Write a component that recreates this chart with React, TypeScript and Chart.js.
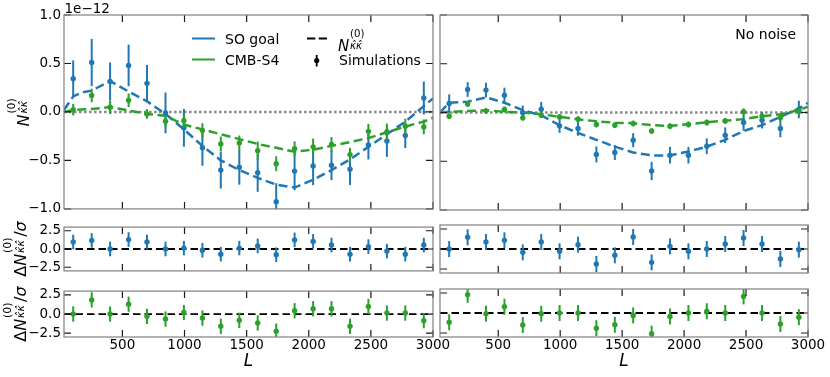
import React, { useEffect, useRef } from 'react';
import { Chart, registerables } from 'chart.js';

Chart.register(...registerables);

const BLUE = '#1f77b4';
const GREEN = '#2ca02c';
const FAM = "'DejaVu Sans'";

const L_MIN = 30;
const L_MAX = 3000;
const L_BINS = [104, 253, 401, 550, 698, 847, 995, 1144, 1292, 1441, 1589, 1738, 1886, 2035, 2183, 2332, 2480, 2629, 2777, 2926];
const L_THEORY = [30, 104, 170, 253, 401, 550, 698, 847, 995, 1144, 1292, 1441, 1589, 1738, 1886, 2035, 2183, 2332, 2480, 2629, 2777, 2926, 3000];
const X_TICKS = [500, 1000, 1500, 2000, 2500, 3000];
const Y_TICKS_MAIN = [-1, -0.5, 0, 0.5, 1];
const Y_TICKS_RES = [-2.5, 0, 2.5];

// ---- with noise (left column), units of 1e-12 ----
const SO_THEORY_NOISE = [0.02, 0.16, 0.2, 0.22, 0.32, 0.21, 0.11, -0.02, -0.18, -0.35, -0.5, -0.6, -0.68, -0.75, -0.78, -0.7, -0.6, -0.49, -0.36, -0.23, -0.1, 0.06, 0.14];
const S4_THEORY_NOISE = [0.0, 0.02, 0.025, 0.03, 0.05, 0.015, -0.02, -0.04, -0.13, -0.18, -0.23, -0.28, -0.33, -0.37, -0.41, -0.39, -0.35, -0.31, -0.27, -0.21, -0.15, -0.1, -0.06];
const SO_SIM_NOISE = [0.342, 0.51, 0.315, 0.48, 0.295, -0.01, -0.164, -0.37, -0.6, -0.57, -0.627, -0.925, -0.61, -0.558, -0.55, -0.59, -0.34, -0.3, -0.243, 0.144];
const SO_ERR_NOISE = [0.19, 0.243, 0.195, 0.214, 0.19, 0.21, 0.195, 0.185, 0.19, 0.18, 0.197, 0.19, 0.197, 0.197, 0.154, 0.163, 0.15, 0.163, 0.13, 0.17];
const S4_SIM_NOISE = [0.024, 0.17, 0.048, 0.12, -0.02, -0.096, -0.089, -0.19, -0.33, -0.32, -0.4, -0.534, -0.38, -0.36, -0.336, -0.44, -0.2, -0.205, -0.147, -0.154];
const S4_ERR_NOISE = [0.06, 0.07, 0.07, 0.07, 0.05, 0.063, 0.074, 0.074, 0.077, 0.077, 0.094, 0.077, 0.077, 0.085, 0.077, 0.07, 0.077, 0.085, 0.077, 0.077];

// ---- no noise (right column) ----
const SO_THEORY_NONOISE = [0.0, 0.1, 0.105, 0.11, 0.155, 0.1, 0.024, -0.03, -0.13, -0.21, -0.28, -0.35, -0.41, -0.44, -0.44, -0.4, -0.35, -0.28, -0.19, -0.13, -0.045, 0.04, 0.1];
const S4_THEORY_NONOISE = [0.0, 0.007, 0.01, 0.015, 0.024, 0.007, 0.0, -0.017, -0.045, -0.07, -0.09, -0.105, -0.11, -0.13, -0.137, -0.12, -0.1, -0.085, -0.068, -0.038, -0.017, 0.024, 0.06];
const SO_SIM_NONOISE = [0.092, 0.236, 0.23, 0.178, -0.003, 0.034, -0.137, -0.164, -0.43, -0.41, -0.284, -0.6, -0.438, -0.438, -0.346, -0.233, -0.103, -0.079, -0.164, 0.031];
const SO_ERR_NONOISE = [0.094, 0.075, 0.075, 0.077, 0.074, 0.074, 0.072, 0.074, 0.082, 0.077, 0.072, 0.094, 0.085, 0.085, 0.08, 0.08, 0.085, 0.085, 0.09, 0.09];
const S4_SIM_NONOISE = [-0.038, 0.086, 0.017, 0.031, -0.055, -0.027, -0.045, -0.068, -0.123, -0.13, -0.113, -0.19, -0.14, -0.123, -0.103, -0.086, 0.007, -0.038, -0.051, 0.014];
const S4_ERR_NONOISE = [0.03, 0.031, 0.03, 0.03, 0.029, 0.029, 0.03, 0.03, 0.03, 0.03, 0.029, 0.028, 0.03, 0.03, 0.031, 0.031, 0.035, 0.033, 0.034, 0.035];

// ---- normalised residuals ----
const RES_SO_NOISE = [0.96, 1.17, 0.0, 1.29, 0.96, 0.0, 0.125, -0.17, -0.71, 0.125, 0.42, -0.79, 1.25, 1.04, 0.54, -0.71, 0.33, -0.29, -0.71, 0.54];
const RES_S4_NOISE = [0.0, 1.85, 0.0, 1.29, -0.3, -0.65, 0.2, -0.52, -1.6, -0.82, -1.16, -2.24, 0.43, 0.69, 0.69, -1.6, 0.99, 0.13, 0.13, -0.86];
const RES_SO_NONOISE = [0.0, 1.46, 0.875, 1.08, -0.42, 0.875, -0.29, 0.54, -1.875, -0.79, 1.5, -1.67, 0.33, -0.29, 0.0, 0.625, 1.375, 0.625, -1.25, -0.08];
const RES_S4_NONOISE = [-1.16, 2.28, -0.09, 0.78, -1.5, -0.09, 0.0, 0.0, -1.9, -1.47, -0.3, -2.59, -0.43, 0.0, 0.22, 0.0, 2.07, 0.0, -1.38, -0.52];
const RES_ERR = [1, 1, 1, 1, 1, 1, 1, 1, 1, 1, 1, 1, 1, 1, 1, 1, 1, 1, 1, 1];

type Series = { color: string; theory?: number[]; sims: number[]; err: number[] };
type PanelDef = {
  key: string;
  left: number; top: number; w: number; h: number;
  padding: { left: number; top: number; right: number; bottom: number };
  kind: 'main' | 'res';
  yLabels: boolean;
  xLabels: boolean;
  series: Series[];
  legend?: boolean;
  note?: string;
  offsetText?: boolean;
};

const PANELS: PanelDef[] = [
  { key: 'tl', left: 0, top: 0, w: 440, h: 220, padding: { left: 0, top: 15, right: 7, bottom: 10 }, kind: 'main', yLabels: true, xLabels: false,
    series: [
      { color: BLUE, theory: SO_THEORY_NOISE, sims: SO_SIM_NOISE, err: SO_ERR_NOISE },
      { color: GREEN, theory: S4_THEORY_NOISE, sims: S4_SIM_NOISE, err: S4_ERR_NOISE },
    ], legend: true, offsetText: true },
  { key: 'tr', left: 436, top: 0, w: 394, h: 220, padding: { left: 4, top: 15, right: 22, bottom: 10 }, kind: 'main', yLabels: false, xLabels: false,
    series: [
      { color: BLUE, theory: SO_THEORY_NONOISE, sims: SO_SIM_NONOISE, err: SO_ERR_NONOISE },
      { color: GREEN, theory: S4_THEORY_NONOISE, sims: S4_SIM_NONOISE, err: S4_ERR_NONOISE },
    ], note: 'No noise' },
  { key: 'ml', left: 0, top: 216, w: 440, h: 66, padding: { left: 0, top: 9, right: 7, bottom: 9 }, kind: 'res', yLabels: true, xLabels: false,
    series: [{ color: BLUE, sims: RES_SO_NOISE, err: RES_ERR }] },
  { key: 'mr', left: 436, top: 216, w: 394, h: 66, padding: { left: 4, top: 9, right: 22, bottom: 9 }, kind: 'res', yLabels: false, xLabels: false,
    series: [{ color: BLUE, sims: RES_SO_NONOISE, err: RES_ERR }] },
  { key: 'bl', left: 0, top: 280, w: 460, h: 97, padding: { left: 0, top: 9, right: 27, bottom: 0 }, kind: 'res', yLabels: true, xLabels: true,
    series: [{ color: GREEN, sims: RES_S4_NOISE, err: RES_ERR }] },
  { key: 'br', left: 436, top: 280, w: 394, h: 97, padding: { left: 4, top: 9, right: 22, bottom: 0 }, kind: 'res', yLabels: false, xLabels: true,
    series: [{ color: GREEN, sims: RES_S4_NONOISE, err: RES_ERR }] },
];

type MSeg =
  | { t: string; f: string; dy?: number }
  | { sup: string; sub: string; fsup: string; fsub: string; dsup: number; dsub: number };

function drawMath(ctx: CanvasRenderingContext2D, segs: MSeg[], x: number, y: number, align: 'left' | 'center', rotate: boolean) {
  ctx.save();
  ctx.translate(x, y);
  if (rotate) ctx.rotate(-Math.PI / 2);
  ctx.textAlign = 'left';
  ctx.textBaseline = 'alphabetic';
  ctx.fillStyle = '#000';
  const ws = segs.map((s: any) => {
    if ('t' in s) { ctx.font = s.f; return ctx.measureText(s.t).width; }
    ctx.font = s.fsup; const a = ctx.measureText(s.sup).width;
    ctx.font = s.fsub; const b = ctx.measureText(s.sub).width;
    return Math.max(a, b) + 1.5;
  });
  const total = ws.reduce((a, b) => a + b, 0);
  let cx = align === 'center' ? -total / 2 : 0;
  segs.forEach((s: any, i) => {
    if ('t' in s) { ctx.font = s.f; ctx.fillText(s.t, cx, s.dy || 0); }
    else {
      ctx.font = s.fsup; ctx.fillText(s.sup, cx + 0.8, s.dsup);
      ctx.font = s.fsub; ctx.fillText(s.sub, cx + 0.8, s.dsub);
    }
    cx += ws[i];
  });
  ctx.restore();
}

const KHAT = '\u03BA\u0302';
function nkk(size: number): MSeg[] {
  const s = size * 0.68;
  return [
    { t: 'N', f: `italic ${size}px ${FAM}` },
    { sup: '(0)', sub: KHAT + KHAT, fsup: `${s}px ${FAM}`, fsub: `italic ${s}px ${FAM}`, dsup: -size * 0.92, dsub: -size * 0.12 },
  ];
}
function resLabel(size: number): MSeg[] {
  return [
    { t: '\u0394', f: `${size}px ${FAM}` },
    ...nkk(size),
    { t: '/', f: `${size}px ${FAM}` },
    { t: '\u03C3', f: `italic ${size}px ${FAM}` },
  ];
}

const fmtY = (v: number) => (v < 0 ? '\u2212' : '') + Math.abs(v).toFixed(1);

function makeConfig(def: PanelDef): any {
  const datasets: any[] = [];
  const errs: Record<number, Series> = {};
  const isMain = def.kind === 'main';
  if (isMain) {
    datasets.push({ type: 'line', data: [{ x: L_MIN, y: 0 }, { x: L_MAX, y: 0 }], borderColor: 'rgb(140,140,140)', borderWidth: 2.5, borderDash: [2.6, 2.4], pointRadius: 0, order: 10, clip: 0 });
    def.series.forEach((s, k) => {
      datasets.push({ type: 'line', data: L_THEORY.map((x, i) => ({ x, y: (s.theory as number[])[i] })), borderColor: s.color, borderWidth: 2.5, borderDash: [9, 4.5], pointRadius: 0, tension: 0, order: 8 - k, clip: 0 });
    });
  } else {
    datasets.push({ type: 'line', data: [{ x: L_MIN, y: 0 }, { x: L_MAX, y: 0 }], borderColor: '#000', borderWidth: 1.8, borderDash: [7.5, 4], pointRadius: 0, order: 10, clip: 0 });
  }
  def.series.forEach((s, k) => {
    errs[datasets.length] = s;
    datasets.push({ type: 'scatter', data: L_BINS.map((x, i) => ({ x, y: s.sims[i] })), backgroundColor: s.color, borderWidth: 0, pointRadius: 2.7, order: 4 - k, clip: 0 });
  });

  const yTicks = isMain ? Y_TICKS_MAIN : Y_TICKS_RES;

  const plugin = {
    id: 'panel_' + def.key,
    beforeDatasetDraw(chart: any, args: any) {
      const s = errs[args.index];
      if (!s) return;
      const ctx: CanvasRenderingContext2D = chart.ctx;
      const ca = chart.chartArea;
      const xs = chart.scales.x, ys = chart.scales.y;
      ctx.save();
      ctx.beginPath();
      ctx.rect(ca.left, ca.top, ca.right - ca.left, ca.bottom - ca.top);
      ctx.clip();
      ctx.strokeStyle = s.color;
      ctx.lineWidth = 2;
      ctx.lineCap = 'butt';
      L_BINS.forEach((L, i) => {
        const px = xs.getPixelForValue(L);
        const y1 = ys.getPixelForValue(s.sims[i] + s.err[i]);
        const y2 = ys.getPixelForValue(s.sims[i] - s.err[i]);
        ctx.beginPath();
        ctx.moveTo(px, y1);
        ctx.lineTo(px, y2);
        ctx.stroke();
      });
      ctx.restore();
    },
    afterDraw(chart: any) {
      const ctx: CanvasRenderingContext2D = chart.ctx;
      const { left, right, top, bottom } = chart.chartArea;
      const xs = chart.scales.x, ys = chart.scales.y;
      ctx.save();
      // inward ticks
      ctx.strokeStyle = '#1a1a1a';
      ctx.lineWidth = 1.2;
      const TL = 7;
      X_TICKS.forEach((v) => {
        const px = xs.getPixelForValue(v);
        ctx.beginPath();
        ctx.moveTo(px, bottom); ctx.lineTo(px, bottom - TL);
        ctx.moveTo(px, top); ctx.lineTo(px, top + TL);
        ctx.stroke();
      });
      yTicks.forEach((v) => {
        const py = ys.getPixelForValue(v);
        ctx.beginPath();
        ctx.moveTo(left, py); ctx.lineTo(left + TL, py);
        ctx.moveTo(right, py); ctx.lineTo(right - TL, py);
        ctx.stroke();
      });
      // spines
      ctx.strokeStyle = '#808080';
      ctx.lineWidth = 1.2;
      ctx.strokeRect(left, top, right - left, bottom - top);

      // y title
      if (def.yLabels) {
        const cy = (top + bottom) / 2;
        if (isMain) drawMath(ctx, nkk(16), 29.3, cy, 'center', true);
        else drawMath(ctx, resLabel(16), 25.5, cy, 'center', true);
      }
      // x title
      if (def.xLabels) {
        ctx.fillStyle = '#000';
        ctx.font = `italic 17px ${FAM}`;
        ctx.textAlign = 'center';
        ctx.textBaseline = 'alphabetic';
        ctx.fillText('L', (left + right) / 2, 86);
      }
      if (def.offsetText) {
        ctx.fillStyle = '#000';
        ctx.font = `13.5px ${FAM}`;
        ctx.textAlign = 'left';
        ctx.textBaseline = 'alphabetic';
        ctx.fillText('1e\u221212', left + 0.5, 13);
      }
      if (def.note) {
        ctx.fillStyle = '#000';
        ctx.font = `14px ${FAM}`;
        ctx.textAlign = 'right';
        ctx.textBaseline = 'alphabetic';
        ctx.fillText(def.note, 796 - def.left, 39);
      }
      if (def.legend) {
        ctx.lineCap = 'butt';
        ctx.lineWidth = 2;
        ctx.setLineDash([]);
        ctx.strokeStyle = BLUE;
        ctx.beginPath(); ctx.moveTo(192, 38.5); ctx.lineTo(215, 38.5); ctx.stroke();
        ctx.strokeStyle = GREEN;
        ctx.beginPath(); ctx.moveTo(192, 59.5); ctx.lineTo(215, 59.5); ctx.stroke();
        ctx.strokeStyle = '#000';
        ctx.setLineDash([8.3, 3.4]);
        ctx.beginPath(); ctx.moveTo(307, 38.5); ctx.lineTo(327, 38.5); ctx.stroke();
        ctx.setLineDash([]);
        ctx.lineWidth = 1.8;
        ctx.beginPath(); ctx.moveTo(316.7, 55); ctx.lineTo(316.7, 66.5); ctx.stroke();
        ctx.fillStyle = '#000';
        ctx.beginPath(); ctx.arc(316.7, 60.5, 2.6, 0, Math.PI * 2); ctx.fill();
        ctx.font = `14px ${FAM}`;
        ctx.textAlign = 'left';
        ctx.textBaseline = 'alphabetic';
        ctx.fillText('SO goal', 225, 43.5);
        ctx.fillText('CMB-S4', 225, 64.5);
        ctx.fillText('Simulations', 339, 64.5);
        drawMath(ctx, nkk(15), 338, 50.5, 'left', false);
      }
      ctx.restore();
    },
  };

  return {
    type: 'scatter',
    data: { datasets },
    options: {
      responsive: false,
      maintainAspectRatio: false,
      animation: false,
      devicePixelRatio: 1,
      events: [],
      layout: { padding: def.padding },
      plugins: { legend: { display: false }, tooltip: { enabled: false } },
      scales: {
        x: {
          type: 'linear', min: L_MIN, max: L_MAX,
          display: def.xLabels,
          grid: { display: false, drawTicks: false }, border: { display: false },
          afterBuildTicks: (s: any) => { s.ticks = X_TICKS.map((v) => ({ value: v })); },
          afterFit: def.xLabels ? (s: any) => { s.height = 40; } : undefined,
          ticks: { font: { family: 'DejaVu Sans', size: 13.5 }, color: '#000', padding: 0, maxRotation: 0, minRotation: 0, autoSkip: false, callback: (v: any) => String(v) },
        },
        y: {
          type: 'linear', min: isMain ? -1 : -3, max: isMain ? 1 : 3,
          display: def.yLabels,
          grid: { display: false, drawTicks: false }, border: { display: false },
          afterBuildTicks: (s: any) => { s.ticks = yTicks.map((v) => ({ value: v })); },
          afterFit: def.yLabels ? (s: any) => { s.width = 64; } : undefined,
          ticks: { font: { family: 'DejaVu Sans', size: 13.5 }, color: '#000', padding: 3, autoSkip: false, callback: (v: any) => fmtY(Number(v)) },
        },
      },
    },
    plugins: [plugin],
  };
}

function Panel({ def }: { def: PanelDef }) {
  const ref = useRef<HTMLCanvasElement | null>(null);
  useEffect(() => {
    if (!ref.current) return;
    const chart = new Chart(ref.current, makeConfig(def));
    return () => chart.destroy();
  }, [def]);
  return (
    <canvas
      ref={ref}
      width={def.w}
      height={def.h}
      style={{ position: 'absolute', left: def.left, top: def.top, width: def.w, height: def.h, display: 'block' }}
    />
  );
}

export default function App() {
  return (
    <div style={{ position: 'fixed', left: 0, top: 0, width: 830, height: 377, background: '#fff', overflow: 'hidden' }}>
      {PANELS.map((p) => (
        <Panel key={p.key} def={p} />
      ))}
    </div>
  );
}
